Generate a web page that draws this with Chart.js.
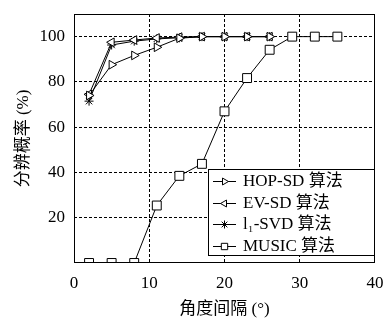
<!DOCTYPE html>
<html>
<head>
<meta charset="utf-8">
<script src="https://cdn.jsdelivr.net/npm/chart.js@4/dist/chart.umd.min.js"></script>
<style>
  html, body { margin: 0; padding: 0; background: #fff; }
  #wrap { width: 384px; height: 320px; }
</style>
</head>
<body>
<div id="wrap"><canvas id="c" width="384" height="320"></canvas></div>
<script>
// angle separation (degrees) and resolution probability (%)
const angles = [2, 5, 8, 11, 14, 17, 20, 23, 26, 29, 32, 35];
const hopSD = [74, 87.6, 91.7, 95.3, 99.3, 100, 100, 100, 100];
const evSD = [74.5, 97.5, 98.5, 99.4, 99.8, 100, 100, 100, 100];
const l1SVD = [71.5, 96.3, 98, 99, 99.5, 100, 100, 100, 100];
const music = [0, 0, 0, 25.4, 38.5, 43.8, 67, 81.7, 94.2, 100, 100, 100];
const labels = ['HOP-SD 算法', 'EV-SD 算法', 'l₁-SVD 算法', 'MUSIC 算法'];
const xTicks = [0, 10, 20, 30, 40];
const yTicks = [20, 40, 60, 80, 100];

const serif = '"Liberation Serif", "Noto Sans CJK SC", serif';

function pts(vals) {
    return vals.map((v, i) => ({ x: angles[i], y: v }));
}

function series(label, vals, style, rot, r) {
    return {
        label: label,
        data: pts(vals),
        borderColor: '#000',
        borderWidth: 1,
        pointStyle: style,
        rotation: rot,
        pointRadius: r,
        pointBorderColor: '#000',
        pointBackgroundColor: '#fff',
        pointBorderWidth: 1,
        fill: false,
        tension: 0
    };
}

// legend in the lower right, drawn with the dataset styles
const boxLegend = {
    id: 'boxLegend',
    afterDatasetsDraw(chart) {
        const ctx = chart.ctx;
        const a = chart.chartArea;
        const w = 167, h = 87;
        const x0 = Math.round(a.right) - w, y0 = Math.round(a.bottom) - 7 - h;
        ctx.save();
        ctx.fillStyle = '#fff';
        ctx.fillRect(x0, y0, w, h);
        ctx.strokeStyle = '#000';
        ctx.lineWidth = 1;
        ctx.strokeRect(x0 + 0.5, y0 + 0.5, w - 1, h - 1);
        ctx.font = '17px ' + serif;
        ctx.textBaseline = 'middle';
        chart.data.datasets.forEach((ds, i) => {
            const y = Math.round(y0 + 12 + i * 21.5);
            ctx.strokeStyle = '#000';
            ctx.beginPath();
            ctx.moveTo(x0 + 5, y + 0.5);
            ctx.lineTo(x0 + 28, y + 0.5);
            ctx.stroke();
            ctx.fillStyle = '#fff';
            Chart.helpers.drawPoint(ctx, {
                pointStyle: ds.pointStyle,
                rotation: ds.rotation,
                radius: ds.pointStyle === 'rect' ? 4.5 : 4,
                borderWidth: 1
            }, x0 + 16.5, y + 0.5);
            ctx.fillStyle = '#000';
            ctx.fillText(ds.label, x0 + 35, y + 1);
        });
        ctx.restore();
    },
    afterDraw(chart) {
        const a = chart.chartArea;
        const ctx = chart.ctx;
        ctx.save();
        ctx.strokeStyle = '#000';
        ctx.lineWidth = 1;
        ctx.strokeRect(Math.round(a.left) + 0.5, Math.round(a.top) + 0.5,
            Math.round(a.right - a.left) - 1, Math.round(a.bottom - a.top) - 1);
        ctx.restore();
    }
};

const gridColor = (c) => {
    const v = c.tick && c.tick.value;
    return (c.scale.axis === 'x' ? (v > 0 && v < 40) : (v > 0 && v < 110)) ? '#000' : 'rgba(0,0,0,0)';
};

new Chart(document.getElementById('c'), {
    type: 'line',
    data: {
        datasets: [
            series(labels[0], hopSD, 'triangle', 90, 5),
            series(labels[1], evSD, 'triangle', -90, 5),
            series(labels[2], l1SVD, 'star', 0, 4.5),
            series(labels[3], music, 'rect', 0, 6.3)
        ]
    },
    options: {
        responsive: false,
        animation: false,
        layout: { padding: { top: 14, right: 9, left: 0, bottom: 0 } },
        plugins: {
            legend: { display: false },
            tooltip: { enabled: false }
        },
        scales: {
            x: {
                type: 'linear',
                min: 0,
                max: 40,
                afterBuildTicks: (s) => { s.ticks = xTicks.map(v => ({ value: v })); },
                afterFit: (s) => { s.height = 57; s.paddingLeft = 0; s.paddingRight = 0; },
                grid: { color: gridColor, lineWidth: 1, drawTicks: false },
                border: { display: false, dash: [3, 2] },
                ticks: { color: '#000', font: { family: serif, size: 17 }, padding: 10, maxRotation: 0 },
                title: {
                    display: true,
                    text: '角度间隔 (°)',
                    color: '#000',
                    font: { family: serif, size: 17 },
                    padding: { top: 2, bottom: 0 }
                }
            },
            y: {
                min: 0,
                max: 110,
                afterBuildTicks: (s) => { s.ticks = [0].concat(yTicks, [110]).map(v => ({ value: v })); },
                afterFit: (s) => { s.width = 74; s.paddingTop = 0; s.paddingBottom = 0; },
                grid: { color: gridColor, lineWidth: 1, drawTicks: false },
                border: { display: false, dash: [3, 2] },
                ticks: {
                    color: '#000',
                    font: { family: serif, size: 17 },
                    padding: 9,
                    callback: (v) => yTicks.includes(v) ? String(v) : ''
                },
                title: {
                    display: true,
                    text: '分辨概率 (%)',
                    color: '#000',
                    font: { family: serif, size: 17 },
                    padding: { top: 13, bottom: 0 }
                }
            }
        }
    },
    plugins: [boxLegend]
});
</script>
</body>
</html>
